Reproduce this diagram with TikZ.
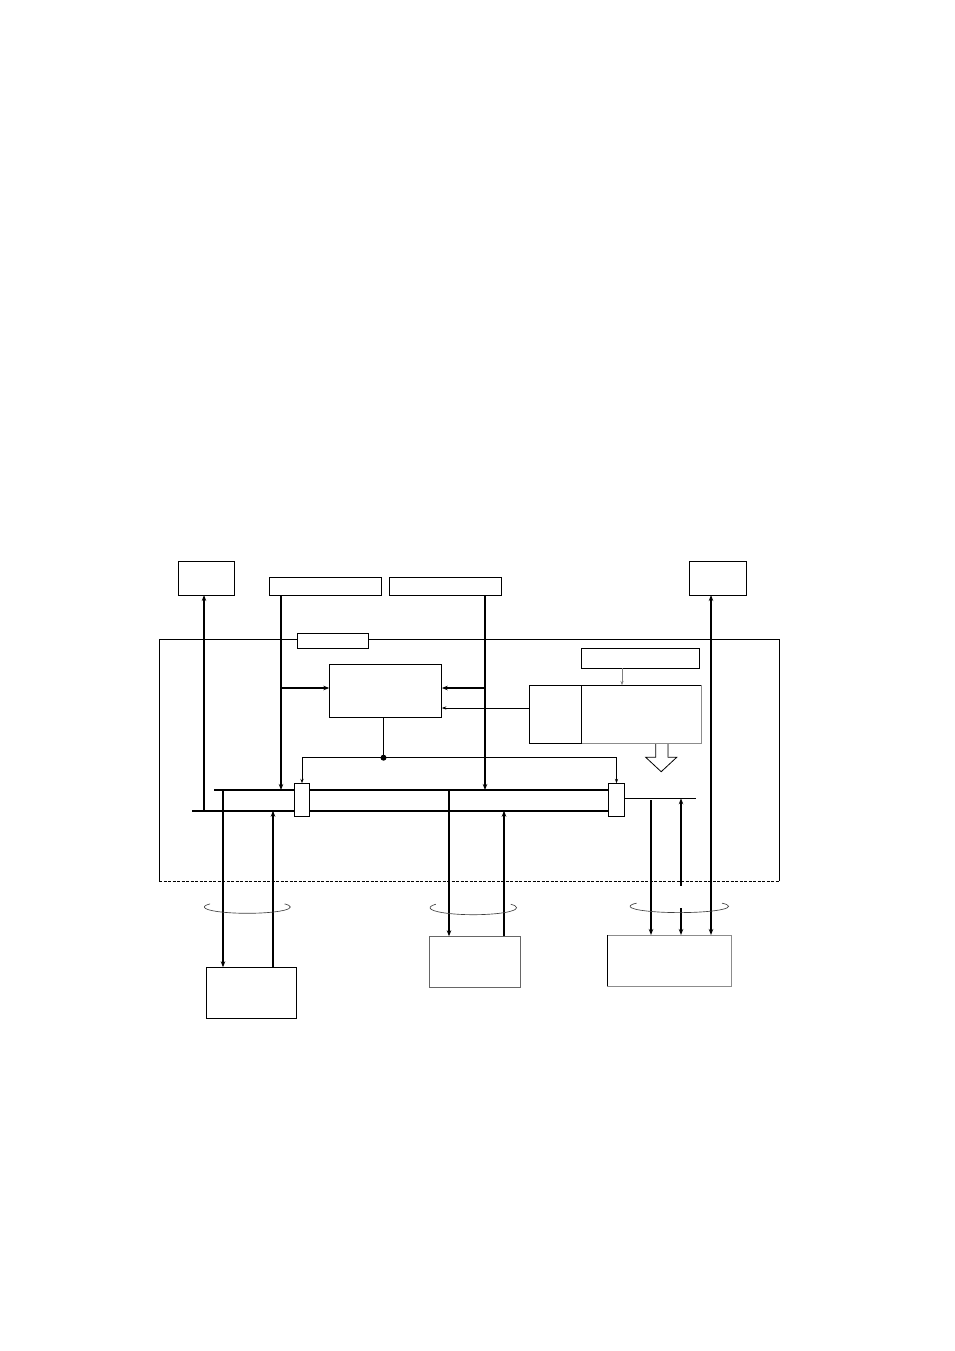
\documentclass[tikz,border=0pt]{standalone}
\usetikzlibrary{arrows.meta}
\begin{document}
\begin{tikzpicture}[x=1pt,y=-1pt,
  box/.style={draw,line width=0.8pt,fill=white,inner sep=0pt,outer sep=0pt,anchor=north west},
  thk/.style={line width=1.7pt},
  thn/.style={line width=0.8pt},
  arr/.style={-{Stealth[length=6pt,width=4.5pt]}},
  darr/.style={{Stealth[length=6pt,width=4.5pt]}-{Stealth[length=6pt,width=4.5pt]}},
  sarr/.style={-{Stealth[length=4.5pt,width=3.2pt]}},
  loopln/.style={line width=0.65pt,draw=black!75},
]
\useasboundingbox (0,0) rectangle (954,1351);
% reference x and y positions
\coordinate (x204) at (204,0); \coordinate (x223) at (223,0);
\coordinate (x273) at (273,0); \coordinate (x281) at (281,0);
\coordinate (x383) at (383.5,0);
\coordinate (x449) at (449,0); \coordinate (x485) at (485,0);
\coordinate (x504) at (504,0); \coordinate (x622) at (622,0);
\coordinate (x651) at (651,0); \coordinate (x681) at (681,0);
\coordinate (x696) at (696,0); \coordinate (x711) at (711,0);
\coordinate (y688) at (0,688); \coordinate (y708) at (0,708);
\coordinate (y757) at (0,757.7);
\coordinate (y798) at (0,798.3); \coordinate (y800) at (0,800);
\coordinate (y886) at (0,885.7); \coordinate (y908) at (0,908);
\coordinate (ubL) at (214,790); \coordinate (lbL) at (192,810.7);

% outer frame
\draw[thn] (159,881) -- (159,639.3) -- (779.3,639.3) -- (779.3,881);
\draw[thn,dash pattern=on 3pt off 1.5pt] (159,881) -- (779.3,881);

% hollow arrow (below the box it leaves)
\draw[thn,fill=white] (655.7,740) -- (655.7,757.3) -- (645.7,757.3) -- (661.2,771.7)
  -- (676.7,757.3) -- (668,757.3) -- (668,740);
\draw[thn,draw=black!40] (668,743) -- (668,757.3);

% boxes
\node[box,minimum width=56pt,minimum height=34pt] (tl) at (178.3,561) {};
\node[box,minimum width=112.5pt,minimum height=18pt] (b2) at (269.3,577.3) {};
\node[box,minimum width=112.5pt,minimum height=18pt] (b3) at (389.3,577.3) {};
\node[box,minimum width=57.5pt,minimum height=34pt] (tr) at (689.3,561) {};
\node[box,minimum width=71.5pt,minimum height=15pt] (lab) at (297.3,633.3) {};
\node[box,minimum width=112.5pt,minimum height=53pt] (cb) at (329.3,664.3) {};
\node[box,minimum width=118.5pt,minimum height=20pt] (spec) at (581.3,648.3) {};
\node[box,draw=black!45,minimum width=120pt,minimum height=57.7pt] (bR) at (581.3,685.3) {};
\node[box,minimum width=52pt,minimum height=57.7pt] (bL) at (529.3,685.3) {};
\draw[thn] (bR.north west) -- (bR.north east);
\node[box,minimum width=15.4pt,minimum height=33.4pt] (lsb) at (294.3,783.3) {};
\node[box,minimum width=16.4pt,minimum height=33pt] (rsb) at (608.3,783.3) {};
\node[box,minimum width=90.4pt,minimum height=51pt] (bl) at (206.3,967.3) {};
\node[box,draw=black!60,minimum width=91pt,minimum height=51pt] (bm) at (429.3,936.3) {};
\node[box,draw=black!45,minimum width=123.3pt,minimum height=51pt] (br) at (607.7,935) {};
\draw[thn] (br.north west) -- (br.south west);

% buses
\draw[thk] (ubL) -- (ubL -| lsb.west) (ubL -| lsb.east) -- (ubL -| rsb.west);
\draw[thk] (lbL) -- (lbL -| lsb.west) (lbL -| lsb.east) -- (lbL -| rsb.west);
\draw[thn] (rsb.east |- y798) -- (x696 |- y798);

% upper connectors
\draw[thk,arr] (x204 |- lbL) -- (x204 |- tl.south);
\draw[thk,arr] (x281 |- b2.south) -- (x281 |- ubL);
\draw[thk,arr] (x281 |- y688) -- (cb.west |- y688);
\draw[thk,arr] (x485 |- b3.south) -- (x485 |- ubL);
\draw[thk,arr] (x485 |- y688) -- (cb.east |- y688);
\draw[thn,sarr] (bL.west |- y708) -- (cb.east |- y708);
\draw[thn,sarr,draw=black!50,fill=black!50] (x622 |- spec.south) -- (x622 |- bR.north);
\coordinate (dot) at (x383 |- y757);
\draw[thn] (x383 |- cb.south) -- (dot);
\draw[thn,sarr] (dot) -| (lsb.north);
\draw[thn,sarr] (dot) -| (rsb.north);
\fill (dot) circle (3pt);

% lower connectors
\draw[thk,arr] (x223 |- ubL) -- (x223 |- bl.north);
\draw[thk,arr] (x273 |- bl.north) -- (x273 |- lbL);
\draw[thk,arr] (x449 |- ubL) -- (x449 |- bm.north);
\draw[thk,arr] (x504 |- bm.north) -- (x504 |- lbL);
\draw[thk,arr] (x651 |- y800) -- (x651 |- br.north);
\draw[thk,arr] (x681 |- y886) -- (x681 |- y798);
\draw[thk,arr] (x681 |- y908) -- (x681 |- br.north);
\draw[thk,darr] (x711 |- br.north) -- (x711 |- tr.south);

% cable loops
\draw[loopln] (247.3,907) ++(150:43pt and 6.3pt)
  arc[start angle=150,end angle=390,x radius=43pt,y radius=6.3pt];
\draw[loopln] (473.3,907.7) ++(150:43.3pt and 7pt)
  arc[start angle=150,end angle=390,x radius=43.3pt,y radius=7pt];
\draw[loopln] (679.3,906.3) ++(150:49.3pt and 6.3pt)
  arc[start angle=150,end angle=390,x radius=49.3pt,y radius=6.3pt];
\end{tikzpicture}
\end{document}
